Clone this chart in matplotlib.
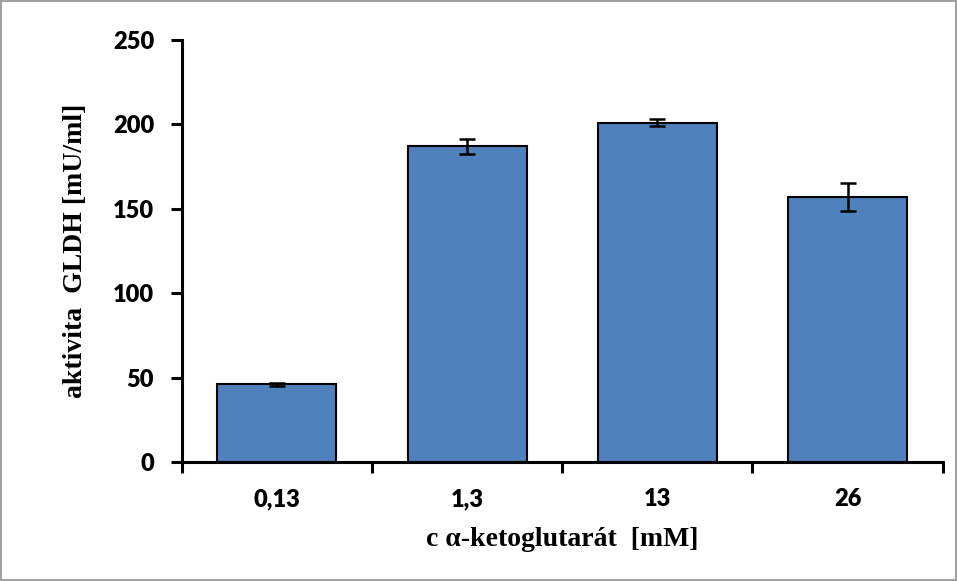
import matplotlib
matplotlib.use('Agg')
import matplotlib.pyplot as plt
import numpy as np

categories = ['0,13', '1,3', '13', '26']
activity = [46, 187, 201, 157]
errors = [1, 4.3, 2, 8.5]

fig = plt.figure(figsize=(9.57, 5.81), dpi=100)
fig.patch.set_edgecolor('#a0a0a0')
fig.patch.set_linewidth(1.5)
ax = fig.add_axes([0.190, 0.205, 0.795, 0.726])

x = np.arange(len(categories))
ax.bar(x, activity, width=0.625, color='#4f81bd', edgecolor='black', linewidth=1.5,
       yerr=errors, error_kw=dict(ecolor='black', elinewidth=1.8, capsize=6, capthick=1.8))

ax.set_xlim(-0.5, len(categories) - 0.5)
ax.set_ylim(0, 250)
ax.set_yticks([0, 50, 100, 150, 200, 250])

for s in ['top', 'right']:
    ax.spines[s].set_visible(False)
for s in ['left', 'bottom']:
    ax.spines[s].set_linewidth(2.2)

# category ticks at the boundaries, labels in the middle
ax.set_xticks(np.arange(len(categories) + 1) - 0.5)
ax.set_xticklabels([])
ax.set_xticks(x, minor=True)
ax.set_xticklabels(categories, minor=True)
ax.tick_params(axis='x', which='major', length=8, width=2.2, direction='out')
ax.tick_params(axis='x', which='minor', length=0, pad=19)
ax.tick_params(axis='y', length=8, width=2.2, direction='out', pad=12)

for lab in ax.get_yticklabels() + ax.get_xticklabels(minor=True):
    lab.set_fontfamily('Lato')
    lab.set_fontweight('heavy')
    lab.set_fontsize(17)

ax.set_ylabel('aktivita  GLDH [mU/ml]', fontfamily='Liberation Serif', fontweight='bold',
              fontsize=20, labelpad=18)
ax.set_xlabel('c α-ketoglutarát  [mM]', fontfamily='Liberation Serif', fontweight='bold',
              fontsize=20, labelpad=12)

plt.savefig('out.png', dpi=100, edgecolor=fig.get_edgecolor())
